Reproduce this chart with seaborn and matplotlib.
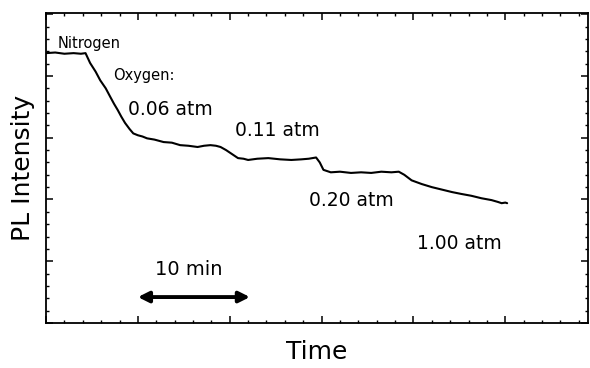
import matplotlib
matplotlib.use("Agg")
import matplotlib.pyplot as plt
import seaborn as sns
import numpy as np
from matplotlib.ticker import MultipleLocator

# Data (x in major-tick units, y in major-tick units)
time = [0.00, 0.10, 0.20, 0.30, 0.38, 0.43, 0.48, 0.54, 0.59, 0.65, 0.70, 0.74,
        0.78, 0.82, 0.86, 0.91, 0.95, 1.00, 1.05, 1.10, 1.18, 1.28, 1.37, 1.46,
        1.55, 1.65, 1.72, 1.79, 1.85, 1.90, 1.96, 2.01, 2.05, 2.09, 2.15, 2.20,
        2.30, 2.42, 2.55, 2.67, 2.78, 2.86, 2.94, 2.98, 3.02, 3.10, 3.20, 3.32,
        3.43, 3.54, 3.65, 3.76, 3.84, 3.90, 3.98, 4.09, 4.20, 4.31, 4.42, 4.52,
        4.63, 4.74, 4.85, 4.92, 4.96, 5.00, 5.02]
intensity = [4.37, 4.38, 4.36, 4.37, 4.36, 4.37, 4.21, 4.07, 3.93, 3.80, 3.66, 3.55,
             3.45, 3.34, 3.24, 3.14, 3.07, 3.04, 3.02, 2.99, 2.97, 2.93, 2.92, 2.88,
             2.87, 2.85, 2.87, 2.88, 2.87, 2.85, 2.80, 2.75, 2.71, 2.67, 2.66, 2.64,
             2.66, 2.67, 2.65, 2.64, 2.65, 2.66, 2.68, 2.60, 2.48, 2.44, 2.45, 2.43,
             2.44, 2.43, 2.45, 2.44, 2.45, 2.40, 2.31, 2.25, 2.20, 2.16, 2.12, 2.09,
             2.06, 2.02, 1.99, 1.96, 1.94, 1.95, 1.94]

labels = ["Nitrogen", "Oxygen:", "0.06 atm", "0.11 atm", "0.20 atm", "1.00 atm"]
label_x = [0.13, 0.73, 0.89, 2.06, 2.86, 4.04]
label_y = [4.53, 4.00, 3.45, 3.12, 1.99, 1.29]
label_size = [10.5, 10.5, 13.5, 13.5, 13.5, 13.5]

sns.set_style("ticks")
plt.rcParams["font.family"] = ["DejaVu Sans"]
plt.rcParams["text.color"] = "black"
plt.rcParams["axes.labelcolor"] = "black"

fig = plt.figure(figsize=(5.9, 3.68), dpi=100)
ax = fig.add_axes([0.078, 0.1223, 0.9186, 0.8424])

sns.lineplot(x=time, y=intensity, ax=ax, color="black", linewidth=1.5)

ax.set_xlim(0, 5.9)
ax.set_ylim(0, 5.02)
ax.xaxis.set_major_locator(MultipleLocator(1))
ax.xaxis.set_minor_locator(MultipleLocator(0.2))
ax.yaxis.set_major_locator(MultipleLocator(1))
ax.yaxis.set_minor_locator(MultipleLocator(0.2))
ax.tick_params(which="both", direction="in", top=True, right=True,
               labelbottom=False, labelleft=False, color="black")
ax.tick_params(which="major", length=5, width=1.1)
ax.tick_params(which="minor", length=2.5, width=1.0)
for s in ax.spines.values():
    s.set_linewidth(1.3)
    s.set_color("black")

for t, x, y, fs in zip(labels, label_x, label_y, label_size):
    ax.text(x, y, t, fontsize=fs, ha="left", va="center", color="black")

ax.text(1.19, 0.86, "10 min", fontsize=14, ha="left", va="center", color="black")
ax.annotate("", xy=(1.0, 0.42), xytext=(2.22, 0.42),
            arrowprops=dict(arrowstyle="<|-|>", color="black", lw=2.8,
                            mutation_scale=16, shrinkA=0, shrinkB=0))

ax.set_xlabel("Time", fontsize=18, labelpad=12, color="black")
ax.set_ylabel("PL Intensity", fontsize=18, labelpad=8, color="black")

fig.savefig("out.png", dpi=100)
